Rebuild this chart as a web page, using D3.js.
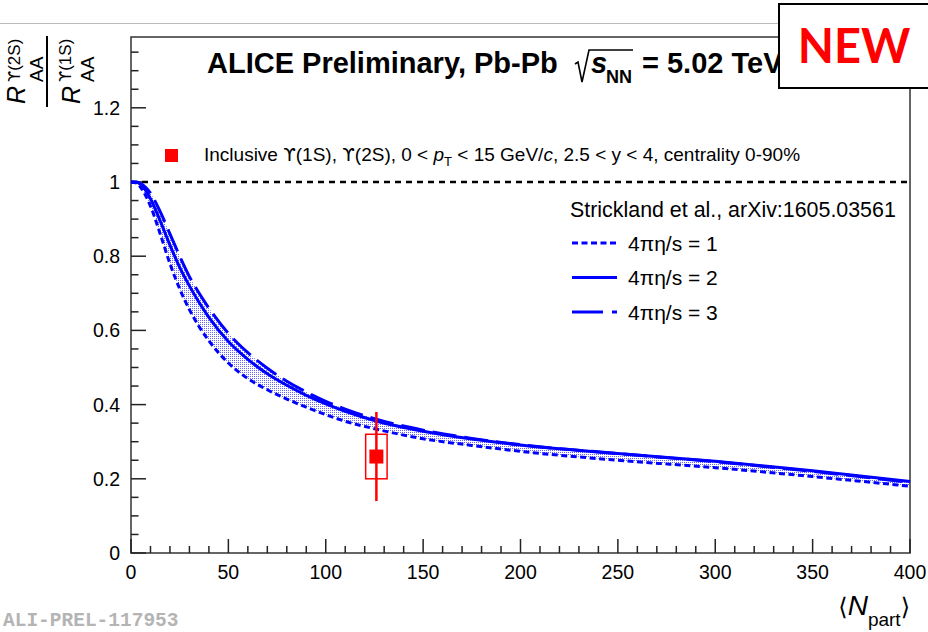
<!doctype html>
<html lang="en">
<head>
<meta charset="utf-8">
<title>Upsilon ratio vs Npart</title>
<script src="https://d3js.org/d3.v7.min.js"></script>
<style>
    body { margin: 0; padding: 0; background: white; }
    svg { display: block; font-family: "Liberation Sans", Arial, sans-serif; }
    .ups { font-family: "DejaVu Sans", sans-serif; }
</style>
</head>
<body>
<div id="chart"></div>
<script>
    // model curves (Strickland et al.)
    const nPart = [0, 3, 5, 10, 15, 20, 25, 30, 35, 40, 50, 60, 70, 80, 90, 100, 110, 125, 150, 175, 200, 250, 300, 350, 400];
    const eta1 = [1, 0.997, 0.985, 0.935, 0.86, 0.78, 0.712, 0.656, 0.61, 0.572, 0.512, 0.47, 0.44, 0.415, 0.393, 0.373, 0.355, 0.335, 0.308, 0.29, 0.274, 0.25, 0.23, 0.206, 0.18];
    const eta2 = [1, 0.999, 0.993, 0.955, 0.895, 0.83, 0.77, 0.72, 0.675, 0.635, 0.57, 0.522, 0.483, 0.452, 0.425, 0.402, 0.382, 0.357, 0.328, 0.307, 0.291, 0.268, 0.247, 0.222, 0.193];
    const eta3 = [1, 1.0, 0.996, 0.97, 0.92, 0.86, 0.80, 0.745, 0.70, 0.66, 0.592, 0.54, 0.498, 0.463, 0.434, 0.409, 0.388, 0.362, 0.331, 0.309, 0.292, 0.268, 0.246, 0.22, 0.19];

    // ALICE measurement
    const dataN = [126];
    const dataR = [0.26];
    const statErr = [0.12];
    const sysErr = [0.06];
    const sysHalfWidth = [5.5];

    const yTicks = [0, 0.2, 0.4, 0.6, 0.8, 1, 1.2];
    const xTicks = [0, 50, 100, 150, 200, 250, 300, 350, 400];
    const legendLabels = ["4\u03c0\u03b7/s = 1", "4\u03c0\u03b7/s = 2", "4\u03c0\u03b7/s = 3"];
    const dashes = ["6,3.5", null, "24,8"];

    const width = 928, height = 632;
    const svg = d3.select("#chart").append("svg")
        .attr("width", width).attr("height", height);

    // pattern for the model band
    const pat = svg.append("defs").append("pattern")
        .attr("id", "dots").attr("patternUnits", "userSpaceOnUse")
        .attr("width", 2).attr("height", 2);
    pat.append("rect").attr("x", 0).attr("y", 0).attr("width", 1).attr("height", 1).attr("fill", "#0000ff");

    // frame geometry
    const fLeft = 131, fRight = 910, fTop = 37, fBottom = 553;
    const x = d3.scaleLinear().domain([0, 400]).range([fLeft, fRight]);
    const y = d3.scaleLinear().domain([0, (fBottom - fTop) / 371]).range([fBottom, fTop]);

    // thin grey line at the top of the slide
    svg.append("line").attr("x1", 0).attr("x2", width).attr("y1", 23.5).attr("y2", 23.5)
        .attr("stroke", "#bbb").attr("stroke-width", 1);

    // frame
    svg.append("rect").attr("x", fLeft).attr("y", fTop).attr("width", fRight - fLeft).attr("height", fBottom - fTop)
        .attr("fill", "none").attr("stroke", "#333").attr("stroke-width", 1.5);

    // y axis, ticks inside
    const yMinor = d3.range(0, 1.36, 0.05);
    svg.append("g").selectAll("line").data(yMinor).join("line")
        .attr("x1", fLeft).attr("x2", (d, i) => i % 4 === 0 ? fLeft + 15 : fLeft + 7.5)
        .attr("y1", d => y(d)).attr("y2", d => y(d))
        .attr("stroke", "#222").attr("stroke-width", 1.5);
    svg.append("g").selectAll("text").data(yTicks).join("text")
        .attr("x", 120).attr("y", d => y(d) + 7)
        .attr("text-anchor", "end").attr("font-size", 19.5)
        .text(d => d3.format("")(d));

    // x axis, ticks inside
    const xMinor = d3.range(0, 401, 10);
    svg.append("g").selectAll("line").data(xMinor).join("line")
        .attr("x1", d => x(d)).attr("x2", d => x(d))
        .attr("y1", fBottom).attr("y2", (d, i) => i % 5 === 0 ? fBottom - 14 : fBottom - 7)
        .attr("stroke", "#222").attr("stroke-width", 1.5);
    svg.append("g").selectAll("text").data(xTicks).join("text")
        .attr("x", d => x(d)).attr("y", 579)
        .attr("text-anchor", "middle").attr("font-size", 19.5)
        .text(d => d);

    // reference line at 1
    svg.append("line").attr("x1", x(0)).attr("x2", x(400)).attr("y1", y(1)).attr("y2", y(1))
        .attr("stroke", "black").attr("stroke-width", 2.5).attr("stroke-dasharray", "6,5");

    // model band and curves
    const model = nPart.map((n, i) => ({n: n, a: eta1[i], b: eta2[i], c: eta3[i]}));
    const area = d3.area().curve(d3.curveMonotoneX)
        .x(d => x(d.n)).y0(d => y(d.a)).y1(d => y(d.c));
    svg.append("path").datum(model).attr("d", area).attr("fill", "url(#dots)").attr("opacity", 0.6);

    const series = [eta1, eta2, eta3];
    series.forEach((s, k) => {
        const line = d3.line().curve(d3.curveMonotoneX).x((d, i) => x(nPart[i])).y(d => y(d));
        svg.append("path").datum(s).attr("d", line)
            .attr("fill", "none").attr("stroke", "#0000ff").attr("stroke-width", 3)
            .attr("stroke-dasharray", dashes[k]);
    });

    // data point
    const pts = dataN.map((n, i) => ({n: n, r: dataR[i], st: statErr[i], sy: sysErr[i], w: sysHalfWidth[i]}));
    const gp = svg.append("g");
    gp.selectAll("rect.sys").data(pts).join("rect").attr("class", "sys")
        .attr("x", d => x(d.n - d.w)).attr("y", d => y(d.r + d.sy))
        .attr("width", d => x(d.n + d.w) - x(d.n - d.w)).attr("height", d => y(d.r - d.sy) - y(d.r + d.sy))
        .attr("fill", "none").attr("stroke", "#ff0000").attr("stroke-width", 1.5);
    gp.selectAll("line").data(pts).join("line")
        .attr("x1", d => x(d.n)).attr("x2", d => x(d.n))
        .attr("y1", d => y(d.r + d.st)).attr("y2", d => y(d.r - d.st))
        .attr("stroke", "#ff0000").attr("stroke-width", 2.5);
    gp.selectAll("rect.mk").data(pts).join("rect").attr("class", "mk")
        .attr("x", d => x(d.n) - 7).attr("y", d => y(d.r) - 7)
        .attr("width", 14).attr("height", 14).attr("fill", "#ff0000");

    // data legend
    svg.append("rect").attr("x", 165).attr("y", 149).attr("width", 13).attr("height", 13).attr("fill", "#ff0000");
    const lt = svg.append("text").attr("x", 204).attr("y", 161).attr("font-size", 19);
    lt.append("tspan").text("Inclusive ");
    lt.append("tspan").attr("class", "ups").attr("font-size", 18).text("\u03d2");
    lt.append("tspan").text("(1S), ");
    lt.append("tspan").attr("class", "ups").attr("font-size", 18).text("\u03d2");
    lt.append("tspan").text("(2S), 0 < ");
    lt.append("tspan").attr("font-style", "italic").text("p");
    lt.append("tspan").attr("font-size", 13).attr("dy", 5).text("T");
    lt.append("tspan").attr("dy", -5).text(" < 15 GeV/");
    lt.append("tspan").attr("font-style", "italic").text("c");
    lt.append("tspan").text(", 2.5 < y < 4, centrality 0-90%");

    // model legend
    svg.append("text").attr("x", 570).attr("y", 217).attr("font-size", 21.4)
        .text("Strickland et al., arXiv:1605.03561");
    const lg = svg.append("g").selectAll("g").data(legendLabels).join("g")
        .attr("transform", (d, i) => `translate(0,${243 + i * 34.5})`);
    lg.append("line").attr("x1", 572).attr("x2", 617).attr("y1", 0).attr("y2", 0)
        .attr("stroke", "#0000ff").attr("stroke-width", 3)
        .attr("stroke-dasharray", (d, i) => dashes[i] === "24,8" ? "31,9" : dashes[i]);
    lg.append("text").attr("x", 628).attr("y", 7.5).attr("font-size", 21).text(d => d);

    // title
    const tt = svg.append("g").attr("font-weight", "bold");
    tt.append("text").attr("x", 207).attr("y", 73).attr("font-size", 29).text("ALICE Preliminary, Pb-Pb");
    tt.append("path").attr("d", "M575,64 L578,62 L582,82 L589,50 L633,50")
        .attr("fill", "none").attr("stroke", "black").attr("stroke-width", 1.6);
    tt.append("text").attr("x", 591).attr("y", 73).attr("font-size", 29).attr("font-style", "italic").text("s");
    tt.append("text").attr("x", 606).attr("y", 83).attr("font-size", 18).text("NN");
    tt.append("text").attr("x", 642).attr("y", 73).attr("font-size", 29).text("= 5.02 TeV");

    // y axis title: ratio of R_AA
    const yt = svg.append("g").attr("transform", "translate(0,107) rotate(-90)");
    yt.append("text").attr("x", 3).attr("y", 25).attr("font-size", 25).attr("font-style", "italic").text("R");
    yt.append("text").attr("x", 25).attr("y", 43).attr("font-size", 19).text("AA");
    const sup1 = yt.append("text").attr("x", 25).attr("y", 20).attr("font-size", 17);
    sup1.append("tspan").attr("class", "ups").attr("font-size", 16).text("\u03d2");
    sup1.append("tspan").text("(2S)");
    yt.append("line").attr("x1", 0).attr("x2", 71).attr("y1", 47).attr("y2", 47)
        .attr("stroke", "black").attr("stroke-width", 2);
    yt.append("text").attr("x", 3).attr("y", 80).attr("font-size", 25).attr("font-style", "italic").text("R");
    yt.append("text").attr("x", 25).attr("y", 94).attr("font-size", 19).text("AA");
    const sup2 = yt.append("text").attr("x", 25).attr("y", 71).attr("font-size", 17);
    sup2.append("tspan").attr("class", "ups").attr("font-size", 16).text("\u03d2");
    sup2.append("tspan").text("(1S)");

    // x axis title
    const xt = svg.append("text").attr("x", 910).attr("y", 615).attr("text-anchor", "end").attr("font-size", 28);
    xt.append("tspan").attr("font-family", "DejaVu Sans").attr("font-size", 24).text("\u27e8");
    xt.append("tspan").attr("font-style", "italic").text("N");
    xt.append("tspan").attr("font-size", 19).attr("dy", 11).text("part");
    xt.append("tspan").attr("font-family", "DejaVu Sans").attr("font-size", 24).attr("dy", -11).text("\u27e9");

    // watermark
    svg.append("text").attr("x", 3).attr("y", 626)
        .attr("font-family", "Liberation Mono, monospace").attr("font-weight", "bold")
        .attr("font-size", 19.5).attr("fill", "#b4b4b4").text("ALI-PREL-117953");

    // NEW box
    svg.append("rect").attr("x", 779).attr("y", 4).attr("width", 160).attr("height", 84)
        .attr("fill", "white").attr("stroke", "black").attr("stroke-width", 2);
    svg.append("text").attr("x", 854).attr("y", 63).attr("text-anchor", "middle")
        .attr("font-family", "Lato, 'Open Sans', sans-serif").attr("font-weight", "bold")
        .attr("font-size", 47).attr("fill", "#ff0000").text("NEW");
</script>
</body>
</html>
